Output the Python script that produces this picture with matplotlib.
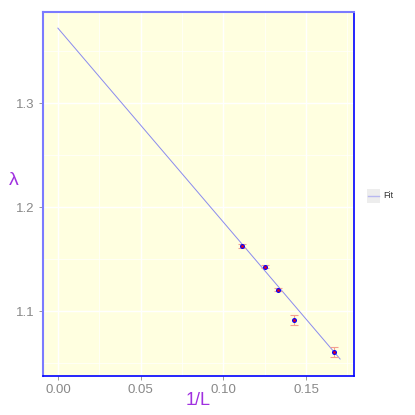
import matplotlib
matplotlib.use("Agg")
import matplotlib.pyplot as plt
import numpy as np
from matplotlib.ticker import MultipleLocator
from matplotlib.patches import Rectangle
from matplotlib.lines import Line2D

plt.rcParams['font.family'] = ['Liberation Sans', 'DejaVu Sans']

inv_L = [1/9, 1/8, 1/7.5, 1/7, 1/6]
lam = [1.1625, 1.1426, 1.1205, 1.0913, 1.0606]
lam_err = [0.0015, 0.0012, 0.0012, 0.0048, 0.0050]
fit_intercept = 1.372
fit_slope = -1.865
fit_range = [0.0, 0.1706]

W = H = 415
fig = plt.figure(figsize=(4.15, 4.15), dpi=100)
ax = fig.add_axes([43/W, 1-376/H, (354-43)/W, (376-12)/H])
ax.set_facecolor('#FFFFE0')

ax.set_xlim(-0.009, 0.179)
ax.set_ylim(1.0375, 1.3875)
ax.xaxis.set_major_locator(MultipleLocator(0.05))
ax.xaxis.set_minor_locator(MultipleLocator(0.025))
ax.yaxis.set_major_locator(MultipleLocator(0.1))
ax.yaxis.set_minor_locator(MultipleLocator(0.05))
ax.grid(which='major', color='white', lw=1.0)
ax.grid(which='minor', color='white', lw=0.5)
ax.set_axisbelow(True)

fx = np.array(fit_range)
ax.plot(fx, fit_intercept + fit_slope * fx, color='#8a8aee', lw=0.7)
ax.errorbar(inv_L, lam, yerr=lam_err, fmt='none', ecolor='#f4a090', elinewidth=0.8,
            capsize=3, capthick=0.8)
ax.plot(inv_L, lam, 'o', color='blue', ms=3.6, mec='none', ls='none')
ax.plot(inv_L, lam, 'o', color='#dd0022', ms=2.0, mec='none', ls='none')

ax.set_xticks([0, 0.05, 0.10, 0.15])
ax.set_xticklabels(['0.00', '0.05', '0.10', '0.15'])
ax.set_yticks([1.1, 1.2, 1.3])
ax.set_yticklabels(['1.1', '1.2', '1.3'])
ax.tick_params(which='major', colors='#888888', labelsize=9.5, length=3, width=0.6, pad=3)
ax.tick_params(which='minor', length=0)

for s in ['bottom', 'right']:
    ax.spines[s].set_color('blue')
    ax.spines[s].set_linewidth(1.2)
for s in ['top', 'left']:
    ax.spines[s].set_color('#7b7bff')
    ax.spines[s].set_linewidth(1.5)

fig.text(198/W, 1-400/H, '1/L', color='#a030e0', fontsize=13, ha='center', va='center')
fig.text(14/W, 1-180/H, 'λ', color='#a030e0', fontsize=14, ha='center', va='center')

# legend
fig.patches.append(Rectangle((367/W, 1-203/H), 13/W, 14/H, transform=fig.transFigure,
                             facecolor='#EDEDED', edgecolor='none'))
fig.lines.append(Line2D([368/W, 379/W], [1-196/H, 1-196/H], transform=fig.transFigure,
                        color='#b8b8f0', lw=1.0))
fig.text(383/W, 1-196/H, 'Fit', color='#333333', fontsize=6.5, ha='left', va='center')

fig.savefig('out.png', dpi=100)
